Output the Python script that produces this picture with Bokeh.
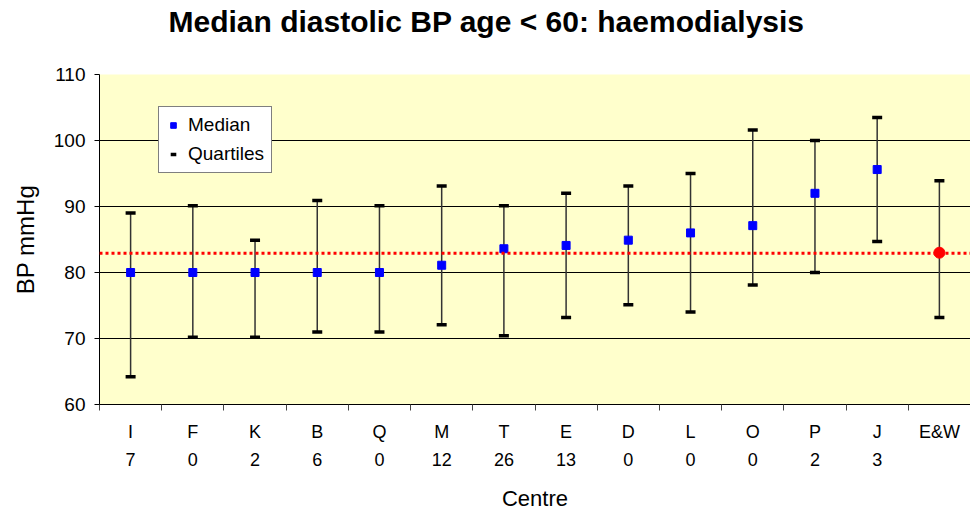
from bokeh.plotting import figure
from bokeh.models import (ColumnDataSource, Range1d, FixedTicker, LinearAxis,
                          Span, Legend, LegendItem)
from bokeh.embed import file_html
from bokeh.resources import INLINE

# ---- data ----
centres = ["I", "F", "K", "B", "Q", "M", "T", "E", "D", "L", "O", "P", "J", "E&W"]
counts = ["7", "0", "2", "6", "0", "12", "26", "13", "0", "0", "0", "2", "3", ""]
median = [80.0, 80.0, 80.0, 80.0, 80.0, 81.1, 83.6, 84.1, 84.9, 86.0, 87.1, 92.0, 95.6, 83.0]
lower_q = [64.2, 70.2, 70.2, 71.0, 71.0, 72.1, 70.4, 73.2, 75.1, 74.0, 78.1, 80.0, 84.7, 73.2]
upper_q = [89.0, 90.1, 84.9, 90.9, 90.1, 93.1, 90.1, 92.0, 93.1, 95.0, 101.6, 100.0, 103.5, 93.9]
ew_median_line = 82.9
y_ticks = [60, 70, 80, 90, 100, 110]
title_text = "Median diastolic BP age < 60: haemodialysis"

FONT = "Liberation Sans"
n = len(centres)
xc = [i + 0.5 for i in range(n)]
bounds = [float(i) for i in range(n + 1)]

p = figure(width=970, height=513, output_backend="svg", toolbar_location=None,
           x_range=Range1d(0, n), y_range=Range1d(60, 110),
           min_border_left=99, min_border_right=0, min_border_top=74,
           min_border_bottom=108, x_axis_location=None, y_axis_location=None)

p.border_fill_color = "white"
p.outline_line_color = None
p.background_fill_color = "#FFFFCC"

# title
p.title.text = title_text
p.title.text_font = FONT
p.title.text_font_size = "30px"
p.title.text_font_style = "bold"
p.title.text_color = "black"
p.title.align = "left"
p.title.offset = 69
p.title.standoff = 4

# invisible spacer between title and plot area
spacer = LinearAxis(ticker=FixedTicker(ticks=[], minor_ticks=[]), axis_label=" ")
spacer.axis_line_color = None
spacer.major_tick_line_color = None
spacer.minor_tick_line_color = None
spacer.major_tick_out = 0
spacer.minor_tick_out = 0
spacer.major_label_standoff = 0
spacer.axis_label_text_font_size = "2px"
spacer.axis_label_standoff = 30
p.add_layout(spacer, "above")

# y axis
yaxis = LinearAxis(ticker=FixedTicker(ticks=y_ticks), axis_label="BP mmHg")
yaxis.axis_label_text_font = FONT
yaxis.axis_label_text_font_size = "24px"
yaxis.axis_label_text_font_style = "normal"
yaxis.axis_label_text_color = "black"
yaxis.axis_label_standoff = 12
yaxis.major_label_text_font = FONT
yaxis.major_label_text_font_size = "19px"
yaxis.major_label_text_color = "black"
yaxis.major_label_standoff = 9
yaxis.major_tick_in = 0
yaxis.major_tick_out = 5
yaxis.minor_tick_line_color = None
yaxis.axis_line_color = "black"
yaxis.major_tick_line_color = "black"
p.add_layout(yaxis, "left")

# x axis: letters at centres, boundary ticks as minor ticks
xaxis = LinearAxis(ticker=FixedTicker(ticks=xc, minor_ticks=bounds))
xaxis.major_label_overrides = {x: c for x, c in zip(xc, centres)}
xaxis.major_label_text_font = FONT
xaxis.major_label_text_font_size = "18px"
xaxis.major_label_text_color = "black"
xaxis.major_label_standoff = 11
xaxis.major_tick_line_color = None
xaxis.major_tick_in = 0
xaxis.major_tick_out = 0
xaxis.minor_tick_in = 0
xaxis.minor_tick_out = 6
xaxis.minor_tick_line_color = "#444444"
xaxis.axis_line_color = "black"
p.add_layout(xaxis, "below")

# second row: counts + axis label
xaxis2 = LinearAxis(ticker=FixedTicker(ticks=xc, minor_ticks=[]), axis_label="Centre")
xaxis2.major_label_overrides = {x: c for x, c in zip(xc, counts)}
xaxis2.major_label_text_font = FONT
xaxis2.major_label_text_font_size = "18px"
xaxis2.major_label_text_color = "black"
xaxis2.major_label_standoff = 2
xaxis2.major_tick_line_color = None
xaxis2.minor_tick_line_color = None
xaxis2.axis_line_color = None
xaxis2.axis_label_text_font = FONT
xaxis2.axis_label_text_font_size = "22px"
xaxis2.axis_label_text_font_style = "normal"
xaxis2.axis_label_text_color = "black"
xaxis2.axis_label_standoff = 17
p.add_layout(xaxis2, "below")

# grid
p.xgrid.visible = False
p.ygrid.ticker = FixedTicker(ticks=y_ticks)
p.ygrid.grid_line_color = "black"
p.ygrid.grid_line_width = 1

# E&W median reference line
p.add_layout(Span(location=ew_median_line, dimension="width", line_color="red",
                  line_width=3, line_dash="3 3"))

centre_src = ColumnDataSource(dict(x=xc[:-1], med=median[:-1], lo=lower_q[:-1], hi=upper_q[:-1]))
ew_src = ColumnDataSource(dict(x=xc[-1:], med=median[-1:], lo=lower_q[-1:], hi=upper_q[-1:]))
all_src = ColumnDataSource(dict(x=xc, lo=lower_q, hi=upper_q))
caps_src = ColumnDataSource(dict(x=xc + xc, y=lower_q + upper_q))

p.segment(x0="x", y0="lo", x1="x", y1="hi", source=all_src, line_color="#333333", line_width=1.5)
caps = p.scatter(x="x", y="y", source=caps_src, marker="dash", size=10,
                 line_color="black", line_width=3.5)
med = p.scatter(x="x", y="med", source=centre_src, marker="square", size=8,
                fill_color="#0000FF", line_color="#0000FF")
p.scatter(x="x", y="med", source=ew_src, marker="circle", size=11,
          fill_color="#FF0000", line_color="#FF0000")

legend = Legend(items=[LegendItem(label="Median", renderers=[med]),
                       LegendItem(label="Quartiles", renderers=[caps])],
                location=(59, 231))
legend.label_text_font = FONT
legend.label_text_font_size = "19px"
legend.label_text_color = "black"
legend.border_line_color = "black"
legend.border_line_width = 1
legend.background_fill_color = "white"
legend.background_fill_alpha = 1
legend.padding = 7
legend.margin = 0
legend.spacing = 7
legend.glyph_width = 14
legend.label_standoff = 8
p.add_layout(legend, "center")

open("out.html", "w").write(file_html(p, INLINE))
